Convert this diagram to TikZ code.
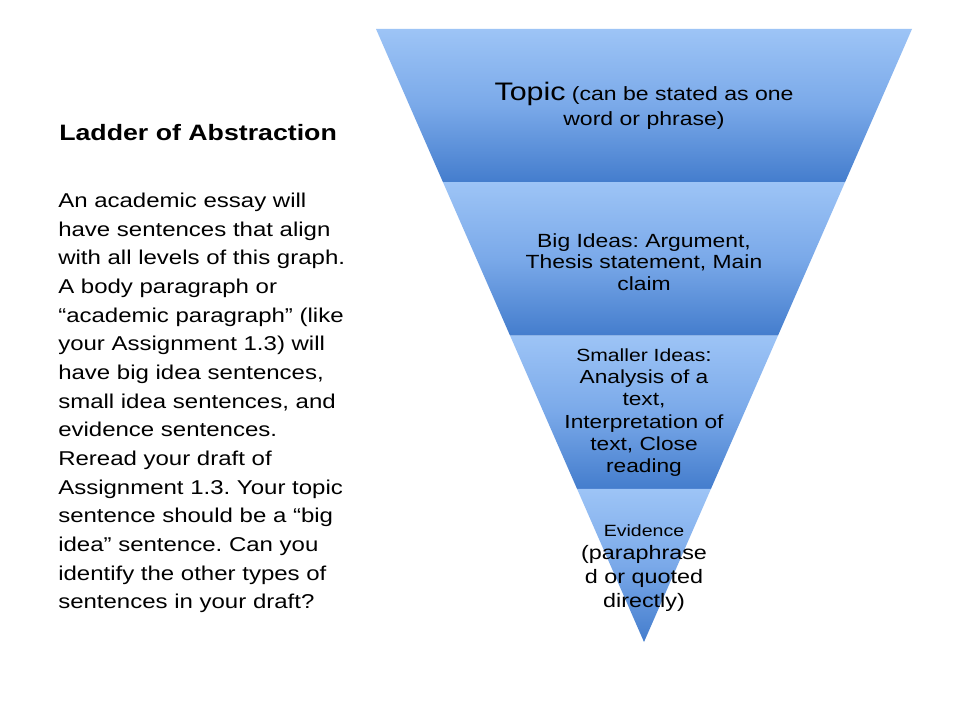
\documentclass[tikz,border=0pt]{standalone}
\usepackage{fontspec}
\setmainfont{Liberation Sans}[FakeStretch=1.2]
\usetikzlibrary{calc}
\definecolor{bandtop}{RGB}{157,196,246}
\definecolor{bandmid}{RGB}{122,169,233}
\definecolor{bandbot}{RGB}{68,125,205}
\begin{document}
\frenchspacing
\begin{tikzpicture}[x=0.75pt,y=-0.75pt,
  band/.style={top color=bandtop,bottom color=bandbot,middle color=bandmid},
  lbl/.style={inner sep=0pt,align=center,anchor=north,text=black},
  body/.style={inner sep=0pt,align=left,anchor=north west,text=black}]
\fill[white] (0,0) rectangle (960,720);
\useasboundingbox (0,0) rectangle (960,720);
% triangle geometry
\coordinate (TL) at (376,29);
\coordinate (TR) at (912,29);
\coordinate (TP) at (644,642);
\coordinate (L1) at ($(TL)!0.25!(TP)$);
\coordinate (R1) at ($(TR)!0.25!(TP)$);
\coordinate (L2) at ($(TL)!0.5!(TP)$);
\coordinate (R2) at ($(TR)!0.5!(TP)$);
\coordinate (L3) at ($(TL)!0.75!(TP)$);
\coordinate (R3) at ($(TR)!0.75!(TP)$);
\shade[band] (TL) -- (TR) -- (R1) -- (L1) -- cycle;
\shade[band] (L1) -- (R1) -- (R2) -- (L2) -- cycle;
\shade[band] (L2) -- (R2) -- (R3) -- (L3) -- cycle;
\shade[band] (L3) -- (R3) -- (TP) -- cycle;
% band labels
\node[lbl,font=\fontsize{14.4}{18.75}\selectfont] (topic) at (644,82)
  {{\fontsize{19}{24}\selectfont Topic} (can be stated as one\\word or phrase)};
\node[lbl,font=\fontsize{14.3}{16.1}\selectfont] (big) at (644,233)
  {Big Ideas: Argument,\\Thesis statement, Main\\claim};
\node[lbl,font=\fontsize{14.2}{16.65}\selectfont] (small) at (644,348.5)
  {{\fontsize{13.2}{16}\selectfont Smaller Ideas}:\\Analysis of a\\text,\\Interpretation of\\text, Close\\reading};
\node[lbl,font=\fontsize{14.6}{17.8}\selectfont] (evid) at (644,524)
  {{\fontsize{12.2}{16}\selectfont Evidence}\\(paraphrase\\d or quoted\\directly)};
% left text
\node[inner sep=0pt,anchor=base west,font=\bfseries\fontsize{16.7}{20}\selectfont] (title) at (59,140.5)
  {Ladder of Abstraction};
\node[body,font=\fontsize{15}{21.5}\selectfont] (para) at (58,192.7)
  {An academic essay will\\
   have sentences that align\\
   with all levels of this graph.\\
   A body paragraph or\\
   “academic paragraph” (like\\
   your Assignment 1.3) will\\
   have big idea sentences,\\
   small idea sentences, and\\
   evidence sentences.\\
   Reread your draft of\\
   Assignment 1.3. Your topic\\
   sentence should be a “big\\
   idea” sentence. Can you\\
   identify the other types of\\
   sentences in your draft?};
\end{tikzpicture}
\end{document}
